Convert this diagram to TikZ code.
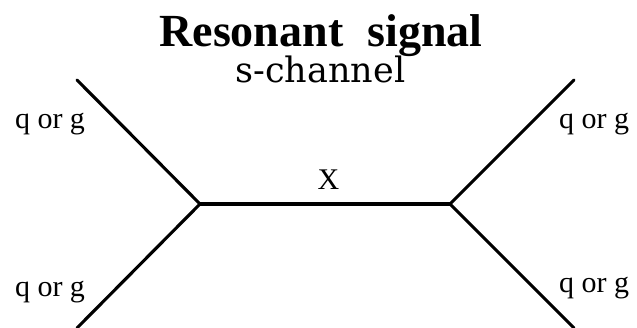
\documentclass[tikz,border=0pt]{standalone}
\usepackage{fontspec}
\setmainfont{Liberation Serif}
\newfontfamily\subfont{DejaVu Serif}
\tikzset{
  leg/.style={line width=3.1pt, line cap=round},
  lbl/.style={anchor=base, inner sep=0pt, font=\fontsize{30}{36}\selectfont},
  ttl/.style={anchor=base, inner sep=0pt, font=\fontsize{46}{54}\selectfont\bfseries},
  sub/.style={anchor=base, inner sep=0pt, font=\fontsize{35}{42}\selectfont\subfont},
}
\begin{document}
\begin{tikzpicture}[x=1pt,y=-1pt]
\useasboundingbox (0,0) rectangle (637,327);
% vertices and free ends
\coordinate (vl) at (200,204);
\coordinate (vr) at (450,204);
\coordinate (tl) at (77,80);
\coordinate (bl) at (77,328);
\coordinate (tr) at (574,80);
\coordinate (br) at (574,328);
\draw[leg] (tl) -- (vl) -- (bl);
\draw[leg] (tr) -- (vr) -- (br);
\draw[leg] (vl) -- (vr);
% labels
\node[ttl] (title) at (321,46) {Resonant\hspace{24pt}signal};
\node[sub] (subtitle) at (320.5,82) {s-channel};
\node[lbl] (lq1) at (50,128) {q or g};
\node[lbl] (lq2) at (50,296) {q or g};
\node[lbl] (rq1) at (594,128) {q or g};
\node[lbl] (rq2) at (594,292) {q or g};
\node[lbl] (xlab) at (328.5,189) {X};
\end{tikzpicture}
\end{document}
